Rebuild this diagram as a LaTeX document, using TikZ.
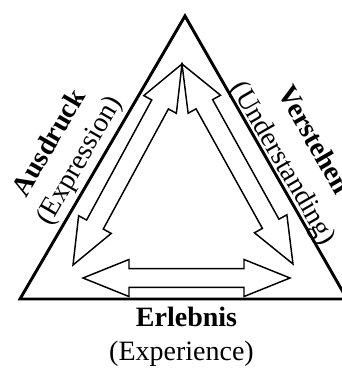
\documentclass[tikz,border=0pt]{standalone}
\usepackage{fontspec}
\setmainfont{Liberation Serif}
\usetikzlibrary{calc}

% hollow arrow with a head at both ends
\newcommand{\hollowarrow}[2]{%
  \coordinate (#1h) at ($(#1)!34.5pt!(#2)$);
  \coordinate (#2h) at ($(#2)!34.5pt!(#1)$);
  \draw [arrowline] (#1) -- ($(#1h)!13.9pt!90:(#2)$) -- ($(#1h)!7.1pt!90:(#2)$)
    -- ($(#2h)!7.1pt!-90:(#1)$) -- ($(#2h)!13.9pt!-90:(#1)$) -- (#2)
    -- ($(#2h)!13.9pt!90:(#1)$) -- ($(#2h)!7.1pt!90:(#1)$)
    -- ($(#1h)!7.1pt!-90:(#2)$) -- ($(#1h)!13.9pt!-90:(#2)$) -- cycle;}

\begin{document}
\begin{tikzpicture}[x=0.75pt,y=0.75pt,yscale=-1,xscale=1,
  side/.style={line width=2.2pt},
  arrowline/.style={line width=1.1pt, line join=miter},
  boldlabel/.style={font=\fontsize{21}{25}\selectfont\bfseries, inner sep=0pt},
  plainlabel/.style={font=\fontsize{21}{25}\selectfont, inner sep=0pt}]
%set diagram size 342 x 369, the right corner is cut off
\clip (0,0) rectangle (342,369);

%Shape: Triangle
\coordinate (apex) at (185,16);
\coordinate (bl) at (20,299);
\coordinate (br) at (347,299);
\draw [side] (apex) -- (bl) -- (br) -- cycle;

%Arrows
\coordinate (top) at (182,64);
\coordinate (lefttip) at (73,265);
\coordinate (righttip) at (293,264);
\coordinate (botleft) at (83,278);
\coordinate (botright) at (290,278);
\hollowarrow{top}{lefttip}
\hollowarrow{top}{righttip}
\hollowarrow{botleft}{botright}

% Text Node
\draw (56.4,147.1) node (ausdruck) [boldlabel, rotate=60, anchor=base] {Ausdruck};
% Text Node
\draw (80.2,161) node (expression) [plainlabel, rotate=60] {(Expression)};
% Text Node
\draw (306.9,144.4) node (verstehen) [boldlabel, rotate=-60, anchor=base] {Verstehen};
% Text Node
\draw (282.5,164.1) node (understanding) [plainlabel, rotate=-60] {(Understanding)};
% Text Node
\draw (186.5,326) node (erlebnis) [boldlabel, anchor=base] {Erlebnis};
% Text Node
\draw (181.5,360) node (experience) [plainlabel, anchor=base] {(Experience)};

\end{tikzpicture}
\end{document}
